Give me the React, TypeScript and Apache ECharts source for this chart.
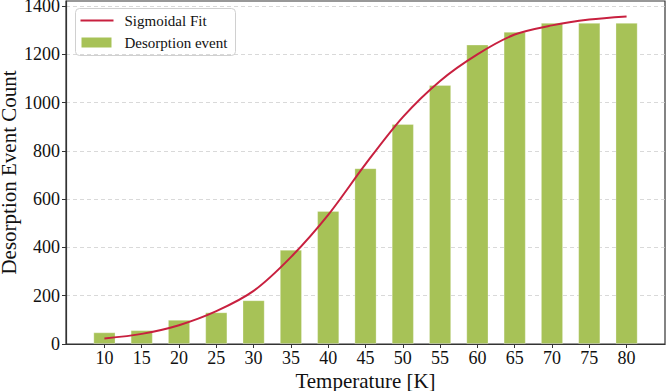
import React, { useEffect, useRef } from "react";
import * as echarts from "echarts";

const temperatures = [10, 15, 20, 25, 30, 35, 40, 45, 50, 55, 60, 65, 70, 75, 80];
const eventCounts = [48, 57, 100, 131, 181, 390, 551, 728, 911, 1073, 1240, 1293, 1330, 1330, 1330];
const fitValues = [23, 42, 78, 136, 220, 360, 535, 745, 940, 1090, 1200, 1282, 1320, 1344, 1357];
const yTicks = [0, 200, 400, 600, 800, 1000, 1200, 1400];
const legendLabels = ["Sigmoidal Fit", "Desorption event"];

const FONT = "Liberation Serif, Times New Roman, serif";
const GREEN = "#a7c257";
const RED = "#c8203f";

export default function App() {
  const ref = useRef<HTMLDivElement>(null);
  useEffect(() => {
    if (!ref.current) return;
    const chart = echarts.init(ref.current, undefined, { renderer: "svg" });
    const barData = temperatures.map((t, i) => [t, eventCounts[i]]);
    const lineData = temperatures.map((t, i) => [t, fitValues[i]]);
    chart.setOption({
      animation: false,
      backgroundColor: "#ffffff",
      textStyle: { fontFamily: FONT },
      grid: {
        left: 66,
        right: 1,
        top: 1,
        bottom: 47,
        containLabel: false,
        outerBoundsMode: "none",
        show: true,
        borderColor: "#333",
        borderWidth: 1.2,
        backgroundColor: "transparent",
      },
      graphic: [
        {
          type: "group",
          left: 75,
          top: 8,
          z: 100,
          children: [
            {
              type: "rect",
              shape: { x: 0, y: 0, width: 160, height: 47, r: 4 },
              style: { fill: "rgba(255,255,255,0.85)", stroke: "#d0d0d0", lineWidth: 1 },
            },
            {
              type: "line",
              shape: { x1: 5, y1: 12, x2: 38, y2: 12 },
              style: { stroke: RED, lineWidth: 2 },
            },
            {
              type: "text",
              x: 49,
              y: 12,
              style: {
                text: legendLabels[0],
                fontFamily: FONT,
                fontSize: 15,
                fill: "#111",
                verticalAlign: "middle",
              },
            },
            {
              type: "rect",
              shape: { x: 6, y: 29, width: 30, height: 10 },
              style: { fill: GREEN },
            },
            {
              type: "text",
              x: 49,
              y: 34,
              style: {
                text: legendLabels[1],
                fontFamily: FONT,
                fontSize: 15,
                fill: "#111",
                verticalAlign: "middle",
              },
            },
          ],
        },
      ],
      xAxis: {
        type: "value",
        min: 4.85,
        max: 85.15,
        interval: 5,
        name: "Temperature [K]",
        nameLocation: "middle",
        nameGap: 26,
        nameMoveOverlap: false,
        nameTextStyle: { fontFamily: FONT, fontSize: 21, color: "#111" },
        axisLine: { show: true, lineStyle: { color: "#333", width: 1.2 } },
        axisTick: {
          show: true,
          inside: false,
          length: 4,
          lineStyle: { color: "#333" },
          customValues: temperatures,
        },
        axisLabel: {
          fontFamily: FONT,
          fontSize: 18,
          color: "#111",
          margin: 5,
          customValues: temperatures,
          formatter: (v: number) => String(v),
        },
        splitLine: { show: false },
      },
      yAxis: {
        type: "value",
        min: 0,
        max: 1421,
        interval: 200,
        name: "Desorption Event Count",
        nameLocation: "middle",
        nameGap: 47,
        nameMoveOverlap: false,
        nameTextStyle: { fontFamily: FONT, fontSize: 21, color: "#111" },
        axisLine: { show: true, lineStyle: { color: "#333", width: 1.2 } },
        axisTick: {
          show: true,
          inside: false,
          length: 4,
          lineStyle: { color: "#333" },
          customValues: yTicks,
        },
        axisLabel: {
          fontFamily: FONT,
          fontSize: 18,
          color: "#111",
          margin: 6,
          customValues: yTicks,
          formatter: (v: number) => String(v),
        },
        splitLine: {
          show: true,
          lineStyle: { color: "#cfcfcf", type: [4, 3], width: 0.8 },
        },
      },
      series: [
        {
          name: "Desorption event",
          type: "bar",
          data: barData,
          barWidth: 22,
          itemStyle: {
            color: GREEN,
            borderColor: "rgba(255,255,255,0.35)",
            borderWidth: 0.8,
          },
          z: 2,
        },
        {
          name: "Sigmoidal Fit",
          type: "line",
          data: lineData,
          smooth: 0.3,
          symbol: "none",
          showSymbol: false,
          lineStyle: { color: RED, width: 2 },
          itemStyle: { color: RED },
          z: 3,
        },
      ],
    });
    return () => chart.dispose();
  }, []);
  return <div ref={ref} style={{ width: 666, height: 391, position: "absolute", left: 0, top: 0 }} />;
}
